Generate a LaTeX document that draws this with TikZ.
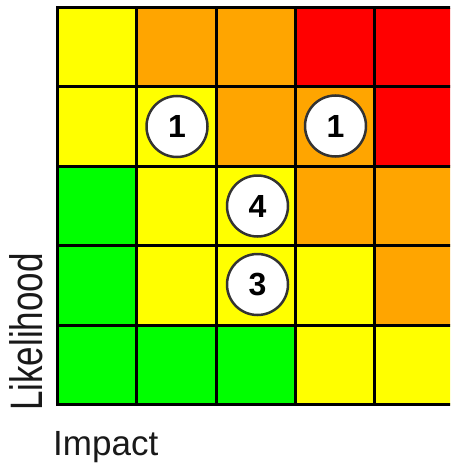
\documentclass[tikz,border=0pt]{standalone}
\usepackage{fontspec}
\setmainfont{Liberation Sans}
\definecolor{hmY}{RGB}{255,255,0}
\definecolor{hmO}{RGB}{255,165,0}
\definecolor{hmR}{RGB}{255,0,0}
\definecolor{hmG}{RGB}{0,255,0}
\tikzset{
  gridline/.style={draw=black, line width=3pt, line cap=rect},
  score/.style={circle, draw=black!80, line width=2.5pt, fill=white,
    minimum size=61pt, inner sep=0pt, text=black,
    font=\bfseries\fontsize{32}{32}\selectfont},
  axislabel/.style={inner sep=0pt, text=black!90, font=\fontsize{35}{35}\selectfont}
}
\begin{document}
\begin{tikzpicture}[x=1pt,y=-1pt]
\useasboundingbox (0,0) rectangle (450,463);
\clip (0,0) rectangle (450,463);
\def\cw{79.25}
\def\ch{79.4}
% risk matrix cells, top row first
\foreach \r/\l in {0/{Y,O,O,R,R},1/{Y,Y,O,O,R},2/{G,Y,Y,O,O},3/{G,Y,Y,Y,O},4/{G,G,G,Y,Y}}{
  \foreach \c [count=\k from 0] in \l {
    \fill[hm\c] (57.5+\k*\cw, 7.5+\r*\ch) rectangle ++(\cw,\ch);
  }
}
% grid
\foreach \k in {0,...,5}
  \draw[gridline] (57.5+\k*\cw, 7.5) -- (57.5+\k*\cw, 404.5);
\foreach \r in {0,...,5}
  \draw[gridline] (57.5, 7.5+\r*\ch) -- (453.75, 7.5+\r*\ch);
% counts of risks per cell
\node[score] (s1) at (177,126.5) {1};
\node[score] (s2) at (335.5,126) {1};
\node[score] (s3) at (257.5,206) {4};
\node[score] (s4) at (257.5,284.5) {3};
% axis labels
\node[axislabel, anchor=base west] (impact) at (53,455) {Impact};
\node[axislabel, rotate=90, anchor=base west] (likelihood) at (42,411) {\scalebox{1}[1.3]{Likelihood}};
\end{tikzpicture}
\end{document}
